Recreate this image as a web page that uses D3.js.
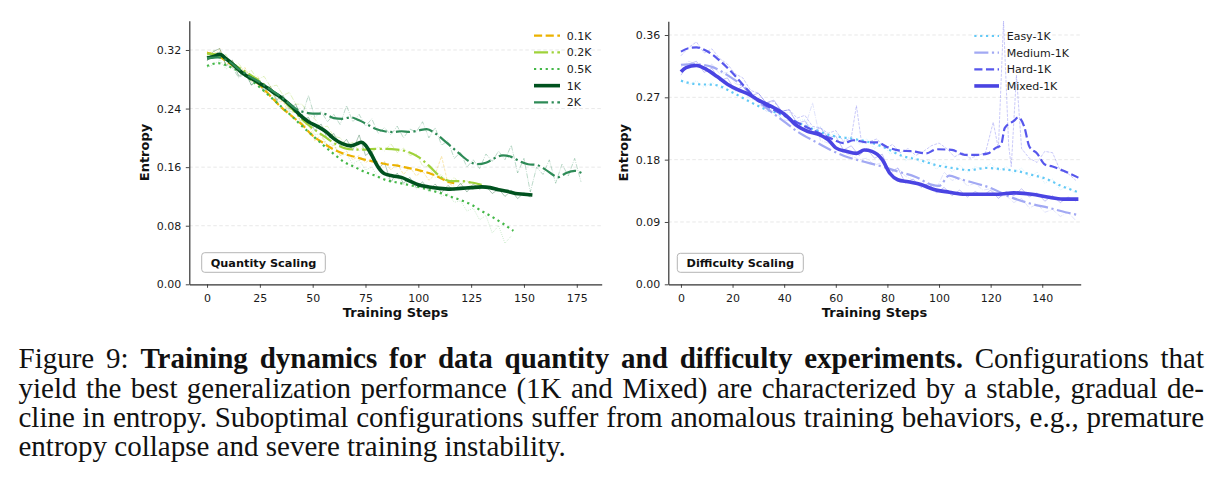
<!DOCTYPE html>
<html><head><meta charset="utf-8">
<script src="https://cdn.jsdelivr.net/npm/d3@7/dist/d3.min.js"></script>
<style>
body{margin:0;background:#fff;}
svg text{font-family:"DejaVu Sans",sans-serif;}
</style></head><body>
<svg id="c" width="1224" height="489"></svg>
<script>
// ---------------- DATA ----------------
const RAW_STEP = 3;
const qXTicks = [0,25,50,75,100,125,150,175];
const qYTicks = [0,0.08,0.16,0.24,0.32];
const dXTicks = [0,20,40,60,80,100,120,140];
const dYTicks = [0,0.09,0.18,0.27,0.36];
const qNames = ["0.1K","0.2K","0.5K","1K","2K"];
const dNames = ["Easy-1K","Medium-1K","Hard-1K","Mixed-1K"];

// Quantity scaling: smoothed curves [step, entropy]
const q01Smooth = [[0,0.316],[5,0.312],[10,0.303],[15,0.293],[20,0.283],[25,0.272],[30,0.257],[35,0.242],[40,0.230],[45,0.218],[50,0.203],[55,0.193],[60,0.184],[65,0.178],[70,0.174],[75,0.170],[80,0.167],[85,0.164],[90,0.162],[95,0.159],[100,0.156],[105,0.152],[110,0.146],[114,0.140],[117,0.138]];
const q02Smooth = [[0,0.315],[5,0.313],[10,0.305],[15,0.296],[20,0.287],[25,0.277],[30,0.266],[35,0.254],[40,0.240],[45,0.225],[50,0.213],[55,0.203],[60,0.193],[65,0.186],[70,0.184],[75,0.184],[80,0.185],[85,0.185],[90,0.184],[95,0.181],[100,0.174],[105,0.162],[110,0.148],[115,0.141],[120,0.141],[125,0.139],[130,0.136]];
const q05Smooth = [[0,0.298],[5,0.302],[10,0.298],[15,0.291],[20,0.281],[25,0.269],[30,0.256],[35,0.243],[40,0.230],[45,0.216],[50,0.203],[55,0.190],[60,0.178],[65,0.167],[70,0.160],[75,0.153],[80,0.148],[85,0.142],[90,0.139],[95,0.136],[100,0.133],[105,0.129],[110,0.125],[115,0.120],[120,0.115],[125,0.109],[130,0.100],[135,0.092],[140,0.083],[145,0.073]];
const q1kSmooth = [[0,0.309],[3,0.311],[6,0.314],[9,0.308],[12,0.301],[15,0.293],[18,0.286],[21,0.281],[24,0.276],[28,0.269],[32,0.261],[36,0.253],[40,0.243],[44,0.231],[48,0.222],[52,0.216],[56,0.209],[60,0.199],[64,0.192],[68,0.189],[71,0.192],[73,0.194],[75,0.190],[78,0.176],[81,0.160],[84,0.151],[88,0.148],[92,0.146],[96,0.141],[100,0.136],[105,0.133],[110,0.131],[115,0.130],[120,0.131],[125,0.132],[130,0.133],[134,0.132],[138,0.129],[142,0.127],[146,0.124],[150,0.123],[154,0.122]];
const q2kSmooth = [[0,0.309],[5,0.310],[10,0.305],[15,0.294],[20,0.284],[25,0.276],[30,0.266],[35,0.256],[40,0.244],[43,0.238],[46,0.235],[50,0.233],[55,0.233],[60,0.227],[64,0.226],[68,0.228],[72,0.224],[76,0.218],[80,0.212],[84,0.209],[88,0.208],[92,0.209],[96,0.208],[100,0.210],[104,0.212],[108,0.206],[112,0.197],[116,0.187],[120,0.177],[124,0.168],[128,0.164],[132,0.166],[136,0.172],[140,0.176],[144,0.174],[148,0.168],[152,0.164],[156,0.163],[160,0.157],[164,0.149],[166,0.146],[170,0.152],[174,0.155],[178,0.151]];
// Quantity scaling: raw values every RAW_STEP steps
const q01Raw = [0.318,0.310,0.322,0.300,0.305,0.290,0.296,0.276,0.284,0.262,0.270,0.248,0.250,0.232,0.238,0.215,0.220,0.196,0.204,0.186,0.190,0.176,0.182,0.170,0.176,0.166,0.172,0.160,0.168,0.156,0.165,0.150,0.160,0.148,0.155,0.142,0.150,0.175,0.138,0.134];
const q02Raw = [0.312,0.320,0.308,0.314,0.296,0.302,0.288,0.292,0.280,0.284,0.270,0.272,0.258,0.262,0.246,0.246,0.232,0.226,0.214,0.216,0.202,0.200,0.190,0.194,0.182,0.190,0.180,0.188,0.182,0.192,0.180,0.186,0.176,0.178,0.162,0.160,0.146,0.150,0.138,0.146,0.136,0.142,0.132,0.138];
const q05Raw = [0.296,0.300,0.306,0.294,0.300,0.286,0.290,0.276,0.278,0.262,0.266,0.248,0.252,0.236,0.236,0.220,0.222,0.204,0.206,0.190,0.192,0.176,0.178,0.164,0.170,0.156,0.160,0.146,0.152,0.140,0.146,0.136,0.142,0.130,0.138,0.126,0.132,0.120,0.124,0.112,0.114,0.100,0.104,0.088,0.094,0.070,0.080,0.056,0.066];
const q1kRaw = [0.305,0.318,0.322,0.298,0.306,0.284,0.290,0.272,0.281,0.265,0.270,0.252,0.258,0.240,0.246,0.224,0.228,0.210,0.219,0.198,0.206,0.188,0.198,0.183,0.204,0.176,0.182,0.158,0.166,0.140,0.152,0.138,0.146,0.132,0.140,0.128,0.137,0.125,0.135,0.128,0.138,0.126,0.137,0.130,0.134,0.124,0.130,0.120,0.128,0.117,0.125,0.119];
const q2kRaw = [0.306,0.312,0.318,0.300,0.296,0.282,0.288,0.272,0.278,0.262,0.268,0.250,0.256,0.238,0.244,0.230,0.258,0.228,0.236,0.222,0.232,0.218,0.244,0.222,0.232,0.216,0.226,0.206,0.214,0.204,0.216,0.200,0.212,0.208,0.222,0.200,0.214,0.190,0.196,0.172,0.180,0.160,0.170,0.158,0.178,0.168,0.182,0.170,0.190,0.152,0.172,0.126,0.160,0.150,0.170,0.138,0.164,0.148,0.172,0.140];

// Difficulty scaling: smoothed curves
const dEasySmooth = [[0,0.294],[6,0.289],[13,0.288],[20,0.277],[26,0.265],[32,0.254],[39,0.245],[45,0.234],[52,0.223],[58,0.215],[65,0.211],[71,0.207],[78,0.199],[86,0.185],[92,0.180],[99,0.172],[105,0.168],[112,0.165],[118,0.168],[125,0.166],[131,0.163],[136,0.158],[141,0.153],[148,0.141],[154,0.133]];
const dMedSmooth = [[0,0.317],[5,0.318],[12,0.314],[18,0.302],[25,0.283],[30,0.264],[35,0.249],[40,0.235],[45,0.221],[52,0.206],[58,0.194],[65,0.183],[71,0.177],[78,0.170],[84,0.163],[91,0.155],[97,0.144],[100,0.142],[104,0.157],[108,0.152],[112,0.148],[120,0.139],[127,0.127],[135,0.117],[143,0.110],[149,0.104],[154,0.100]];
const dHardSmooth = [[0,0.336],[3,0.341],[6,0.342],[10,0.337],[15,0.323],[20,0.305],[25,0.284],[30,0.265],[35,0.254],[41,0.242],[47,0.230],[52,0.221],[58,0.211],[63,0.204],[67,0.208],[72,0.205],[76,0.205],[80,0.198],[85,0.193],[90,0.192],[95,0.189],[99,0.195],[105,0.194],[110,0.187],[115,0.187],[119,0.189],[122,0.197],[124,0.201],[125.5,0.226],[129,0.236],[130.7,0.241],[133,0.228],[135,0.199],[138,0.189],[141,0.173],[144,0.170],[147.5,0.165],[154,0.154]];
const dMixSmooth = [[0,0.307],[2,0.313],[6,0.316],[10,0.310],[14,0.300],[18,0.289],[22,0.281],[26,0.275],[30,0.266],[35,0.257],[40,0.246],[45,0.229],[49,0.221],[53,0.217],[57,0.209],[60,0.197],[64,0.192],[68,0.189],[71,0.194],[74,0.192],[78,0.180],[81,0.160],[84,0.151],[88,0.148],[93,0.144],[98,0.137],[104,0.133],[110,0.130],[116,0.130],[123,0.130],[129,0.132],[136,0.130],[142,0.126],[148,0.123],[154,0.123]];
// Difficulty scaling: raw values
const dEasyRaw = [0.296,0.288,0.294,0.284,0.292,0.282,0.290,0.278,0.280,0.266,0.268,0.256,0.258,0.246,0.248,0.236,0.238,0.224,0.228,0.214,0.218,0.208,0.214,0.202,0.210,0.196,0.204,0.188,0.194,0.178,0.186,0.174,0.180,0.166,0.176,0.162,0.172,0.162,0.170,0.166,0.174,0.164,0.170,0.160,0.168,0.154,0.162,0.146,0.152,0.136,0.142,0.130];
const dMedRaw = [0.314,0.322,0.318,0.312,0.318,0.304,0.306,0.290,0.286,0.270,0.262,0.250,0.254,0.238,0.236,0.224,0.226,0.262,0.208,0.204,0.196,0.190,0.186,0.180,0.182,0.172,0.176,0.164,0.168,0.156,0.150,0.140,0.146,0.138,0.162,0.150,0.154,0.142,0.146,0.136,0.138,0.126,0.128,0.118,0.124,0.110,0.116,0.104,0.108,0.098,0.104,0.092];
const dHardRaw = [[0,0.330],[3,0.342],[6,0.350],[9,0.334],[12,0.340],[15,0.326],[18,0.318],[21,0.304],[24,0.298],[27,0.280],[30,0.276],[33,0.262],[36,0.264],[39,0.250],[42,0.252],[45,0.240],[48,0.244],[51,0.228],[54,0.226],[57,0.218],[60,0.222],[63,0.206],[66,0.212],[68,0.258],[70,0.204],[73,0.206],[76,0.210],[79,0.196],[82,0.202],[85,0.190],[88,0.196],[91,0.186],[94,0.192],[97,0.200],[100,0.204],[103,0.196],[106,0.184],[109,0.190],[112,0.182],[115,0.186],[118,0.190],[121,0.234],[123,0.196],[125,0.380],[127,0.200],[128,0.170],[130,0.302],[132,0.196],[135,0.182],[138,0.176],[141,0.192],[144,0.190],[147,0.164],[150,0.160],[153,0.150]];
const dMixRaw = [0.302,0.318,0.322,0.306,0.312,0.294,0.298,0.280,0.286,0.272,0.276,0.262,0.266,0.250,0.252,0.232,0.236,0.220,0.226,0.212,0.214,0.194,0.200,0.186,0.196,0.182,0.188,0.160,0.168,0.146,0.152,0.140,0.146,0.132,0.140,0.128,0.136,0.126,0.134,0.128,0.136,0.124,0.134,0.128,0.138,0.126,0.132,0.120,0.128,0.118,0.126,0.120];

// Caption
const captionLines = [
  [["Figure",0],["9:",0],["Training",1],["dynamics",1],["for",1],["data",1],["quantity",1],["and",1],["difficulty",1],["experiments.",1],["Configurations",0],["that",0]],
  [["yield",0],["the",0],["best",0],["generalization",0],["performance",0],["(1K",0],["and",0],["Mixed)",0],["are",0],["characterized",0],["by",0],["a",0],["stable,",0],["gradual",0],["de-",0]],
  [["cline",0],["in",0],["entropy.",0],["Suboptimal",0],["configurations",0],["suffer",0],["from",0],["anomalous",0],["training",0],["behaviors,",0],["e.g.,",0],["premature",0]],
  [["entropy",0],["collapse",0],["and",0],["severe",0],["training",0],["instability.",0]]
];

// ---------------- STYLES ----------------
const qStyles = [
  {color:"#ebb200", w:2.2, dash:"dashed"},
  {color:"#9fd23a", w:2.2, dash:"dashdot"},
  {color:"#44b848", w:2.2, dash:"dotted"},
  {color:"#00521f", w:3.6, dash:"solid"},
  {color:"#2e8b57", w:2.2, dash:"dashdot"}
];
const dStyles = [
  {color:"#62c9f6", w:2.2, dash:"dotted"},
  {color:"#a2a9f3", w:2.2, dash:"dashdot"},
  {color:"#5757ec", w:2.2, dash:"dashed"},
  {color:"#4a44e2", w:3.6, dash:"solid"}
];
function dashArr(kind, w){
  if(kind==="dashed") return [3.7*w,1.6*w].join(",");
  if(kind==="dashdot") return [6.4*w,1.6*w,1*w,1.6*w].join(",");
  if(kind==="dotted") return [1*w,1.65*w].join(",");
  return null;
}
const toPts = arr => arr.map((d,i)=> Array.isArray(d) ? d : [i*RAW_STEP, d]);

const svg = d3.select("#c");

function panel(o){
  const g = svg.append("g");
  const x = d3.scaleLinear().domain(o.xDom).range(o.xRange);
  const y = d3.scaleLinear().domain(o.yDom).range(o.yRange);
  // grid
  g.selectAll("line.grid").data(o.yTicks.filter(v=>v>0)).enter().append("line")
    .attr("x1",o.xRange[0]).attr("x2",o.xRange[1])
    .attr("y1",d=>y(d)).attr("y2",d=>y(d))
    .attr("stroke","#dedede").attr("stroke-width",0.7).attr("stroke-dasharray","3.5,2.5");
  const lineRaw = d3.line().x(d=>x(d[0])).y(d=>y(d[1]));
  const lineSm = d3.line().curve(d3.curveMonotoneX).x(d=>x(d[0])).y(d=>y(d[1]));
  o.series.forEach(s=>{
    const rw = 0.8;
    g.append("path").datum(toPts(s.raw)).attr("d",lineRaw)
      .attr("fill","none").attr("stroke",s.st.color).attr("stroke-width",rw)
      .attr("stroke-opacity",0.4).attr("stroke-dasharray",dashArr(s.st.dash,rw));
  });
  o.series.forEach(s=>{
    g.append("path").datum(s.smooth).attr("d",lineSm)
      .attr("fill","none").attr("stroke",s.st.color).attr("stroke-width",s.st.w)
      .attr("stroke-dasharray",dashArr(s.st.dash,s.st.w));
  });
  // axes
  const ax = g.append("g").attr("transform",`translate(0,${o.yRange[0]})`)
    .call(d3.axisBottom(x).tickValues(o.xTicks).tickSize(3.5).tickSizeOuter(0).tickPadding(6).tickFormat(d3.format("d")));
  const ay = g.append("g").attr("transform",`translate(${o.xRange[0]},0)`)
    .call(d3.axisLeft(y).tickValues(o.yTicks).tickSize(3.5).tickSizeOuter(0).tickPadding(4.5).tickFormat(d3.format(".2f")));
  [ax,ay].forEach(a=>{
    a.select(".domain").attr("stroke","#333").attr("stroke-width",1.2);
    a.selectAll(".tick line").attr("stroke","#333").attr("stroke-width",0.9);
    a.selectAll(".tick text").attr("fill","#1a1a1a").style("font-size","11px").style("font-family","DejaVu Sans");
  });
  // axis labels
  g.append("text").attr("x",(o.xRange[0]+o.xRange[1])/2).attr("y",316.7)
    .attr("text-anchor","middle").attr("font-weight","bold").style("font-size","13px").attr("fill","#111")
    .text("Training Steps");
  g.append("text").attr("transform",`translate(${o.ylabX},${(o.yRange[0]+o.yRange[1])/2}) rotate(-90)`)
    .attr("text-anchor","middle").attr("font-weight","bold").style("font-size","13px").attr("fill","#111")
    .text("Entropy");
  // legend
  o.series.forEach((s,i)=>{
    const yy = o.leg.y0 + i*16.65;
    g.append("line").attr("x1",o.leg.h0).attr("x2",o.leg.h1).attr("y1",yy).attr("y2",yy)
      .attr("stroke",s.st.color).attr("stroke-width",s.st.w).attr("stroke-dasharray",dashArr(s.st.dash,s.st.w));
    g.append("text").attr("x",o.leg.tx).attr("y",yy).attr("dy","0.36em")
      .style("font-size","11px").attr("fill","#1a1a1a").text(s.name);
  });
  // annotation box
  g.append("rect").attr("x",o.box[0]).attr("y",o.box[1]).attr("width",o.box[2]).attr("height",o.box[3])
    .attr("rx",3).attr("fill","#fff").attr("stroke","#b5b5b5").attr("stroke-width",1);
  g.append("text").attr("x",o.box[0]+o.box[2]/2).attr("y",o.box[1]+o.box[3]/2).attr("dy","0.36em")
    .attr("text-anchor","middle").attr("font-weight","bold").style("font-size","11.3px").attr("fill","#111")
    .text(o.boxText);
}

panel({
  xDom:[-8.4,186.8], xRange:[189.3,601.7], yDom:[0,0.36], yRange:[284.3,20.7],
  xTicks:qXTicks, yTicks:qYTicks, ylabX:148.5,
  series:[q01Smooth,q02Smooth,q05Smooth,q1kSmooth,q2kSmooth].map((sm,i)=>({smooth:sm, raw:[q01Raw,q02Raw,q05Raw,q1kRaw,q2kRaw][i], st:qStyles[i], name:qNames[i]})),
  leg:{y0:35.7, h0:534, h1:560, tx:566.7},
  box:[201.7,252.7,123.6,19.6], boxText:"Quantity Scaling"
});
panel({
  xDom:[-4.9,154.9], xRange:[668.3,1080.7], yDom:[0,0.38], yRange:[284.3,21.15],
  xTicks:dXTicks, yTicks:dYTicks, ylabX:627.5,
  series:[dEasySmooth,dMedSmooth,dHardSmooth,dMixSmooth].map((sm,i)=>({smooth:sm, raw:[dEasyRaw,dMedRaw,dHardRaw,dMixRaw][i], st:dStyles[i], name:dNames[i]})),
  leg:{y0:36, h0:974.3, h1:999, tx:1006.7},
  box:[677.3,253.3,126,19], boxText:"Difficulty Scaling"
});

// caption with justified lines
const capG = svg.append("g");
const capFont = 29, capX0 = 18.5, capX1 = 1204, capBase = [368.3, 397.6, 426.8, 456.0];
captionLines.forEach((words, li)=>{
  const els = words.map(([t,b])=> capG.append("text")
    .style("font-family","'Liberation Serif','Times New Roman',serif")
    .style("font-size",capFont+"px").attr("font-weight",b?"bold":"normal")
    .attr("fill","#111").attr("y",capBase[li]).text(t));
  const widths = els.map(e=>e.node().getComputedTextLength());
  const total = d3.sum(widths);
  const last = li===captionLines.length-1;
  const gap = last ? capFont*0.25 : (capX1-capX0-total)/(words.length-1);
  let xx = capX0;
  els.forEach((e,i)=>{ e.attr("x",xx); xx += widths[i]+gap; });
});
</script></body></html>
